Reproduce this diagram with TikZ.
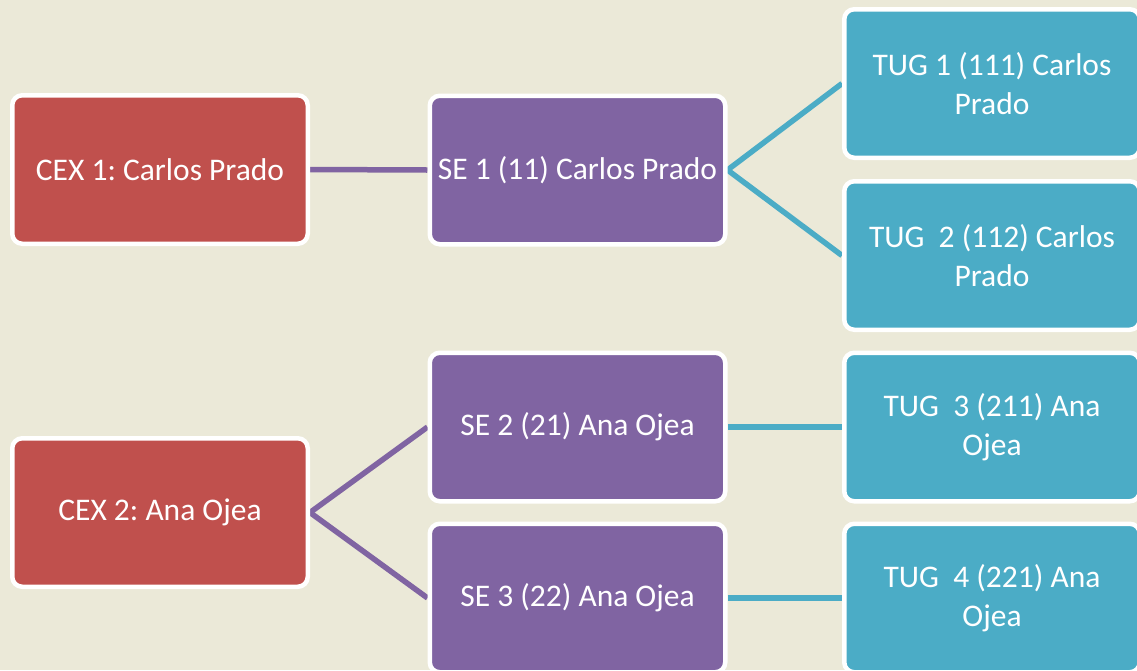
\documentclass[tikz,border=0pt]{standalone}
\usepackage{fontspec}
\setmainfont{Carlito}
\frenchspacing
\pgfdeclarelayer{background}
\pgfsetlayers{background,main}
\definecolor{bgc}{HTML}{EBE9D8}
\definecolor{redc}{HTML}{C0504D}
\definecolor{purc}{HTML}{8064A2}
\definecolor{tealc}{HTML}{4BACC6}
\begin{document}
\begin{tikzpicture}[x=1pt,y=-1pt,
  box/.style={draw=white, line width=4.5pt, rounded corners=10pt,
    minimum width=295.5pt, minimum height=148.5pt, inner sep=0pt,
    align=center, text=white,
    font=\fontsize{31.5}{38.5}\selectfont\frenchspacing},
  cexbox/.style={box, fill=redc},
  sebox/.style={box, fill=purc},
  tugbox/.style={box, fill=tealc},
  purline/.style={draw=purc, line width=5.5pt},
  tealline/.style={draw=tealc, line width=5.5pt}]
\useasboundingbox (0,0) rectangle (1137,670);
\clip (0,0) rectangle (1137,670);
\node[cexbox] (cex1) at (160,169.5) {CEX 1: Carlos Prado};
\node[cexbox] (cex2) at (160,512.5) {CEX 2: Ana Ojea};
\node[sebox] (se1) at (577.5,170) {SE 1 (11) Carlos Prado};
\node[sebox] (se2) at (577.5,427) {SE 2 (21) Ana Ojea};
\node[sebox] (se3) at (577.5,598) {SE 3 (22) Ana Ojea};
\node[tugbox] (tug1) at (992,83.5) {TUG 1 (111) Carlos\\Prado};
\node[tugbox] (tug2) at (992,255.5) {TUG~~2 (112) Carlos\\Prado};
\node[tugbox] (tug3) at (992,427) {TUG~~3 (211) Ana\\Ojea};
\node[tugbox] (tug4) at (992,598) {TUG~~4 (221) Ana\\Ojea};
\begin{pgfonlayer}{background}
\fill[bgc] (0,0) rectangle (1137,670);
\draw[purline] (cex1.east) -- (se1.west);
\draw[purline] (cex2.east) -- (se2.west);
\draw[purline] (cex2.east) -- (se3.west);
\draw[tealline] (se1.east) -- (tug1.west);
\draw[tealline] (se1.east) -- (tug2.west);
\draw[tealline] (se2.east) -- (tug3.west);
\draw[tealline] (se3.east) -- (tug4.west);
\end{pgfonlayer}
\end{tikzpicture}
\end{document}
